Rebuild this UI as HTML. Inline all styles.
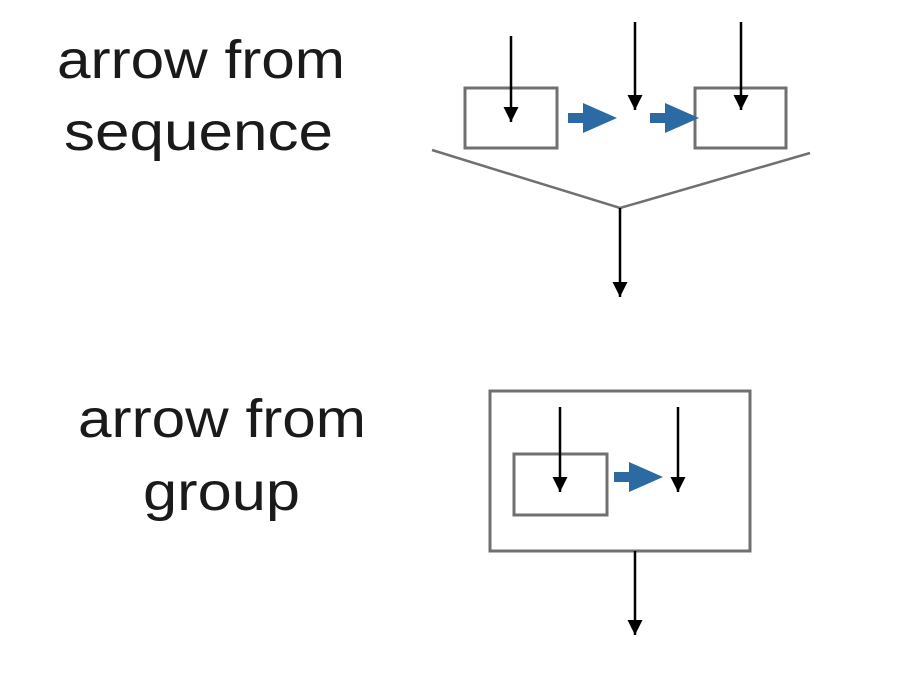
<!DOCTYPE html>
<html><head><meta charset="utf-8"><style>
html,body{margin:0;padding:0;background:#fff;}
svg{display:block}
text{font-family:"Liberation Sans",sans-serif;font-size:54px;fill:#1a1a1a;}
</style></head><body>
<svg width="900" height="675" viewBox="0 0 900 675" xmlns="http://www.w3.org/2000/svg">
<defs>
<marker id="ah" viewBox="0 0 10 10" refX="10" refY="5" markerWidth="15" markerHeight="15" markerUnits="userSpaceOnUse" orient="auto">
<path d="M0,0 L10,5 L0,10 z" fill="#000"/>
</marker>
<g id="blue"><path d="M0,-5 L15,-5 L15,-15 L49,0 L15,15 L15,5 L0,5 z" fill="#2b6aa3"/></g>
</defs>
<text x="57" y="78" textLength="288" lengthAdjust="spacingAndGlyphs">arrow from</text>
<text x="64" y="150" textLength="269" lengthAdjust="spacingAndGlyphs">sequence</text>
<text x="78" y="437" textLength="288" lengthAdjust="spacingAndGlyphs">arrow from</text>
<text x="143" y="510" textLength="157" lengthAdjust="spacingAndGlyphs">group</text>

<g fill="none" stroke="#707070" stroke-width="3">
<rect x="465" y="88" width="92" height="60"/>
<rect x="695" y="88" width="91" height="60"/>
<polyline points="432,150 620,208 810,153" stroke-width="2.5"/>
<rect x="490" y="391" width="260" height="160"/>
<rect x="514" y="454" width="93" height="61"/>
</g>
<g stroke="#000" stroke-width="2.5" marker-end="url(#ah)">
<line x1="511" y1="36" x2="511" y2="122"/>
<line x1="635" y1="22" x2="635" y2="110"/>
<line x1="741" y1="22" x2="741" y2="110"/>
<line x1="620" y1="208" x2="620" y2="297"/>
<line x1="560" y1="407" x2="560" y2="492"/>
<line x1="678" y1="407" x2="678" y2="492"/>
<line x1="635" y1="551" x2="635" y2="635"/>
</g>
<use href="#blue" x="568" y="118"/>
<use href="#blue" x="650" y="118"/>
<use href="#blue" x="614" y="477"/>
</svg>
</body></html>
